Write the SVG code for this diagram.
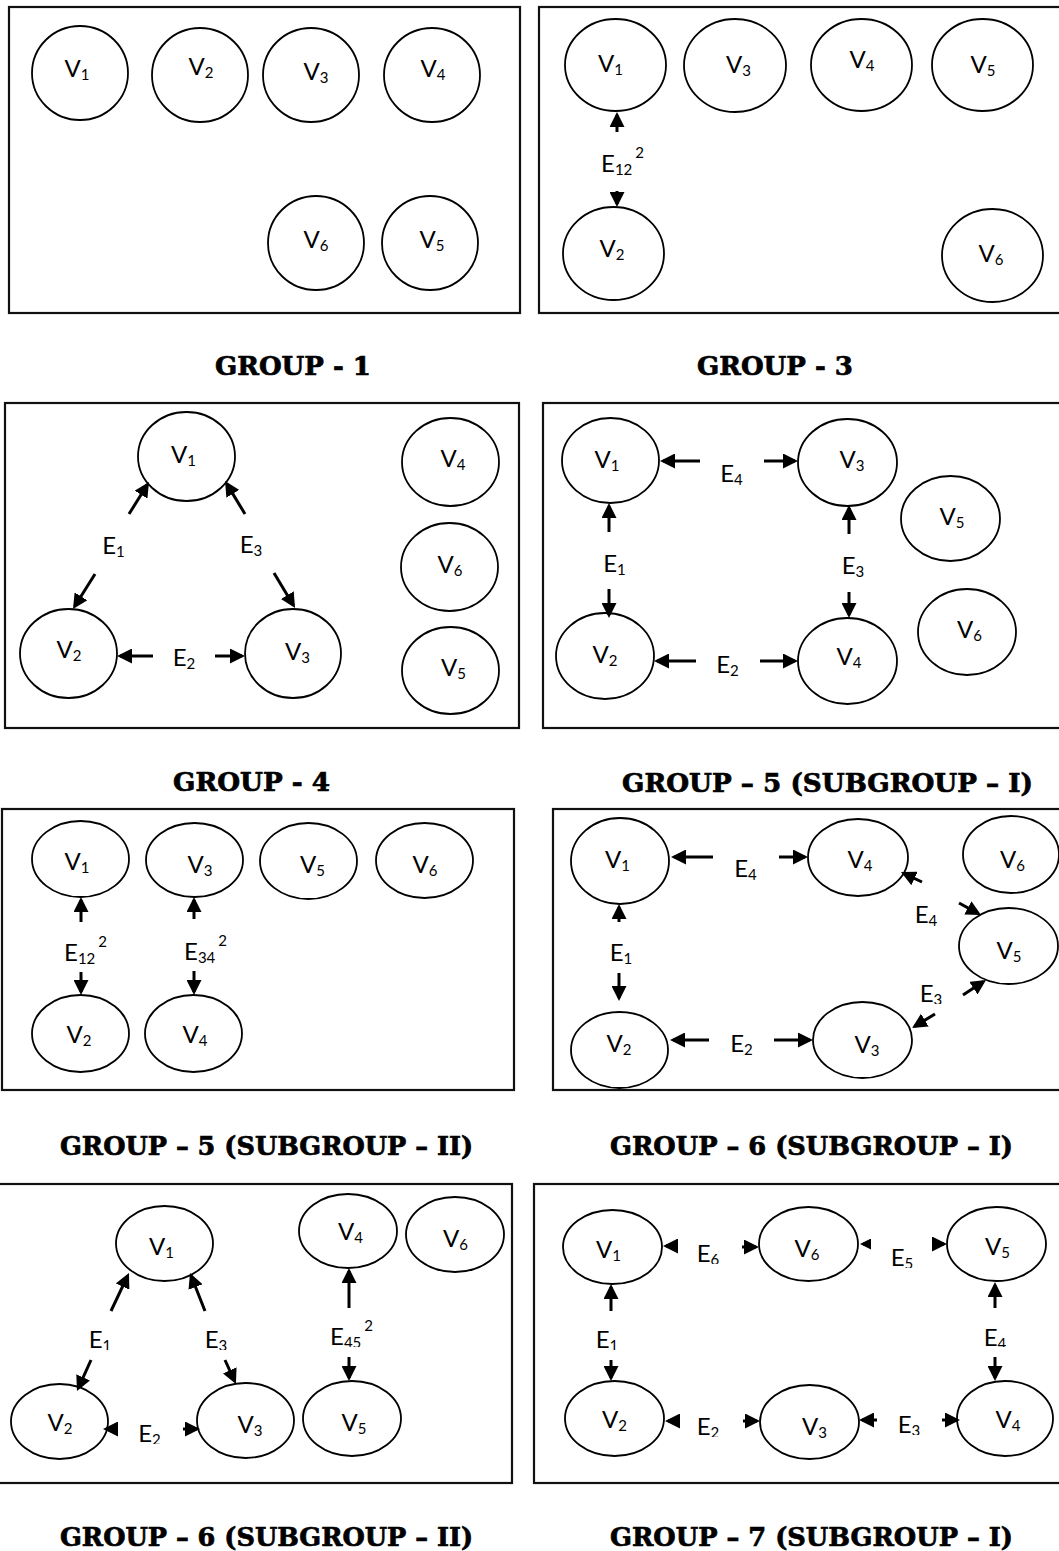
<svg xmlns="http://www.w3.org/2000/svg" width="1059" height="1551" viewBox="0 0 1059 1551">
<style>
.bg{fill:#fff}
.frame{fill:none;stroke:#111;stroke-width:2.2}
.node ellipse{fill:none;stroke:#000;stroke-width:1.8}
.lbl{font-family:Lato,"Noto Sans",sans-serif;font-size:24px;fill:#000}
.sub{font-size:15px}
.title{font-family:"DejaVu Serif","Liberation Serif",serif;font-weight:bold;font-size:26px;fill:#000;stroke:#000;stroke-width:0.7}
.edge path{stroke:#000;stroke-width:3;fill:none;marker-end:url(#ah)}
.edge path.sm{marker-end:url(#ahs)}
</style>
<defs>
<marker id="ah" markerUnits="userSpaceOnUse" markerWidth="15" markerHeight="15" refX="12" refY="7.5" orient="auto"><path d="M0,0 L15,7.5 L0,15 Z" fill="#000"/></marker>
<marker id="ahs" markerUnits="userSpaceOnUse" markerWidth="11" markerHeight="11" refX="8" refY="5.5" orient="auto"><path d="M0,0 L11,5.5 L0,11 Z" fill="#000"/></marker>
<clipPath id="k1004"><rect x="0" y="0" width="1059" height="1004"/></clipPath>
<clipPath id="k1350"><rect x="0" y="0" width="1059" height="1350"/></clipPath>
<clipPath id="k1347"><rect x="0" y="0" width="1059" height="1347"/></clipPath>
<clipPath id="k1444"><rect x="0" y="0" width="1059" height="1444"/></clipPath>
<clipPath id="k1264"><rect x="0" y="0" width="1059" height="1264"/></clipPath>
<clipPath id="k1268"><rect x="0" y="0" width="1059" height="1268"/></clipPath>
<clipPath id="k1437"><rect x="0" y="0" width="1059" height="1437"/></clipPath>
<clipPath id="k1435"><rect x="0" y="0" width="1059" height="1435"/></clipPath>
</defs>
<rect class="bg" x="0" y="0" width="1059" height="1551"/>

<!-- ===== GROUP 1 ===== -->
<g id="group1">
<rect class="frame" x="9" y="7" width="511" height="306"/>
<g id="g1-v1" class="node"><ellipse cx="80" cy="73" rx="48" ry="47"/><text class="lbl" x="77" y="77" text-anchor="middle">V<tspan class="sub" dy="2.5">1</tspan></text></g>
<g id="g1-v2" class="node"><ellipse cx="200" cy="75" rx="48" ry="47"/><text class="lbl" x="201" y="75" text-anchor="middle">V<tspan class="sub" dy="2.5">2</tspan></text></g>
<g id="g1-v3" class="node"><ellipse cx="311" cy="75" rx="48" ry="47"/><text class="lbl" x="316" y="80" text-anchor="middle">V<tspan class="sub" dy="2.5">3</tspan></text></g>
<g id="g1-v4" class="node"><ellipse cx="432" cy="75" rx="48" ry="47"/><text class="lbl" x="433" y="77" text-anchor="middle">V<tspan class="sub" dy="2.5">4</tspan></text></g>
<g id="g1-v6" class="node"><ellipse cx="316" cy="243" rx="48" ry="47"/><text class="lbl" x="316" y="248" text-anchor="middle">V<tspan class="sub" dy="2.5">6</tspan></text></g>
<g id="g1-v5" class="node"><ellipse cx="430" cy="243" rx="48" ry="47"/><text class="lbl" x="432" y="248" text-anchor="middle">V<tspan class="sub" dy="2.5">5</tspan></text></g>
<text class="title" x="215" y="375" textLength="156" lengthAdjust="spacingAndGlyphs">GROUP - 1</text>
</g>

<!-- ===== GROUP 3 ===== -->
<g id="group3">
<rect class="frame" x="539" y="7" width="530" height="306"/>
<g id="g3-v1" class="node"><ellipse cx="615.5" cy="65" rx="50.5" ry="46"/><text class="lbl" x="610.5" y="72" text-anchor="middle">V<tspan class="sub" dy="2.5">1</tspan></text></g>
<g id="g3-v3" class="node"><ellipse cx="735" cy="65.5" rx="51" ry="46.5"/><text class="lbl" x="738.5" y="73" text-anchor="middle">V<tspan class="sub" dy="2.5">3</tspan></text></g>
<g id="g3-v4" class="node"><ellipse cx="861.5" cy="65" rx="50.5" ry="46"/><text class="lbl" x="862" y="68" text-anchor="middle">V<tspan class="sub" dy="2.5">4</tspan></text></g>
<g id="g3-v5" class="node"><ellipse cx="982.5" cy="65" rx="50.5" ry="46"/><text class="lbl" x="983" y="73" text-anchor="middle">V<tspan class="sub" dy="2.5">5</tspan></text></g>
<g id="g3-v2" class="node"><ellipse cx="613.5" cy="253.5" rx="50.5" ry="46.5"/><text class="lbl" x="612" y="257" text-anchor="middle">V<tspan class="sub" dy="2.5">2</tspan></text></g>
<g id="g3-v6" class="node"><ellipse cx="992.5" cy="255.5" rx="50.5" ry="46.5"/><text class="lbl" x="991" y="262" text-anchor="middle">V<tspan class="sub" dy="2.5">6</tspan></text></g>
<g id="g3-edges" class="edge">
<path d="M617,132 L617,115"/>
<path d="M617,191 L617,204"/>
</g>
<text class="lbl" x="601" y="172">E<tspan class="sub" dy="2.5">12</tspan><tspan class="sub" dx="3" dy="-16.5">2</tspan></text>
<text class="title" x="697" y="375" textLength="156" lengthAdjust="spacingAndGlyphs">GROUP - 3</text>
</g>

<!-- ===== GROUP 4 ===== -->
<g id="group4">
<rect class="frame" x="5" y="403" width="514" height="325"/>
<g id="g4-v1" class="node"><ellipse cx="186.5" cy="456.5" rx="48.5" ry="44.5"/><text class="lbl" x="183.5" y="463" text-anchor="middle">V<tspan class="sub" dy="2.5">1</tspan></text></g>
<g id="g4-v2" class="node"><ellipse cx="68.5" cy="653.5" rx="48.5" ry="44.5"/><text class="lbl" x="69" y="658" text-anchor="middle">V<tspan class="sub" dy="2.5">2</tspan></text></g>
<g id="g4-v3" class="node"><ellipse cx="293" cy="653.5" rx="48" ry="44.5"/><text class="lbl" x="297.5" y="660" text-anchor="middle">V<tspan class="sub" dy="2.5">3</tspan></text></g>
<g id="g4-v4" class="node"><ellipse cx="450.5" cy="462" rx="48.5" ry="44"/><text class="lbl" x="453" y="467" text-anchor="middle">V<tspan class="sub" dy="2.5">4</tspan></text></g>
<g id="g4-v6" class="node"><ellipse cx="449.5" cy="567" rx="48.5" ry="44"/><text class="lbl" x="450" y="573" text-anchor="middle">V<tspan class="sub" dy="2.5">6</tspan></text></g>
<g id="g4-v5" class="node"><ellipse cx="450.5" cy="670.5" rx="48.5" ry="43.5"/><text class="lbl" x="453.5" y="676" text-anchor="middle">V<tspan class="sub" dy="2.5">5</tspan></text></g>
<g id="g4-edges" class="edge">
<path d="M129,514 L147.4,484.5"/>
<path d="M95,574 L74.6,606.5"/>
<path d="M245,514 L226.6,483.6"/>
<path d="M274,573 L293.5,605.4"/>
<path d="M153,656 L120,656"/>
<path d="M215,656 L242,656"/>
</g>
<text class="lbl" x="113.5" y="554" text-anchor="middle">E<tspan class="sub" dy="2.5">1</tspan></text>
<text class="lbl" x="251" y="553" text-anchor="middle">E<tspan class="sub" dy="2.5">3</tspan></text>
<text class="lbl" x="184" y="666" text-anchor="middle">E<tspan class="sub" dy="2.5">2</tspan></text>
<text class="title" x="173" y="791" textLength="157" lengthAdjust="spacingAndGlyphs">GROUP - 4</text>
</g>

<!-- ===== GROUP 5 (SUBGROUP I) ===== -->
<g id="group5-1">
<rect class="frame" x="543" y="403" width="530" height="325"/>
<g id="g51-v1" class="node"><ellipse cx="610.5" cy="460.5" rx="48.5" ry="42.5"/><text class="lbl" x="607" y="468" text-anchor="middle">V<tspan class="sub" dy="2.5">1</tspan></text></g>
<g id="g51-v3" class="node"><ellipse cx="847.5" cy="462.5" rx="49.5" ry="43.5"/><text class="lbl" x="852" y="468" text-anchor="middle">V<tspan class="sub" dy="2.5">3</tspan></text></g>
<g id="g51-v5" class="node"><ellipse cx="950.5" cy="518.5" rx="49.5" ry="42.5"/><text class="lbl" x="952" y="525" text-anchor="middle">V<tspan class="sub" dy="2.5">5</tspan></text></g>
<g id="g51-v6" class="node"><ellipse cx="967" cy="632" rx="49" ry="43"/><text class="lbl" x="969.5" y="638" text-anchor="middle">V<tspan class="sub" dy="2.5">6</tspan></text></g>
<g id="g51-v2" class="node"><ellipse cx="605" cy="656" rx="49" ry="43"/><text class="lbl" x="605" y="663" text-anchor="middle">V<tspan class="sub" dy="2.5">2</tspan></text></g>
<g id="g51-v4" class="node"><ellipse cx="847.5" cy="661" rx="49.5" ry="43"/><text class="lbl" x="849" y="665" text-anchor="middle">V<tspan class="sub" dy="2.5">4</tspan></text></g>
<g id="g51-edges" class="edge">
<path d="M700,461 L663,461"/>
<path d="M764,461 L795,461"/>
<path d="M609,532 L609,506"/>
<path d="M609,589 L609,615"/>
<path d="M849,534 L849,508"/>
<path d="M849,592 L849,615"/>
<path d="M696,661 L657,661"/>
<path d="M760,661 L795,661"/>
</g>
<text class="lbl" x="731.5" y="482" text-anchor="middle">E<tspan class="sub" dy="2.5">4</tspan></text>
<text class="lbl" x="614.5" y="572" text-anchor="middle">E<tspan class="sub" dy="2.5">1</tspan></text>
<text class="lbl" x="853" y="574" text-anchor="middle">E<tspan class="sub" dy="2.5">3</tspan></text>
<text class="lbl" x="727.5" y="673" text-anchor="middle">E<tspan class="sub" dy="2.5">2</tspan></text>
<text class="title" x="622" y="792" textLength="411" lengthAdjust="spacingAndGlyphs">GROUP – 5 (SUBGROUP – I)</text>
</g>

<!-- ===== GROUP 5 (SUBGROUP II) ===== -->
<g id="group5-2">
<rect class="frame" x="2" y="809" width="512" height="281"/>
<g id="g52-v1" class="node"><ellipse cx="80.5" cy="859" rx="48.5" ry="38"/><text class="lbl" x="77" y="870" text-anchor="middle">V<tspan class="sub" dy="2.5">1</tspan></text></g>
<g id="g52-v3" class="node"><ellipse cx="194.5" cy="860" rx="48.5" ry="37"/><text class="lbl" x="200" y="873" text-anchor="middle">V<tspan class="sub" dy="2.5">3</tspan></text></g>
<g id="g52-v5" class="node"><ellipse cx="308.5" cy="861" rx="48.5" ry="38"/><text class="lbl" x="312.5" y="873" text-anchor="middle">V<tspan class="sub" dy="2.5">5</tspan></text></g>
<g id="g52-v6" class="node"><ellipse cx="424.5" cy="860.5" rx="48.5" ry="37.5"/><text class="lbl" x="425" y="873" text-anchor="middle">V<tspan class="sub" dy="2.5">6</tspan></text></g>
<g id="g52-v2" class="node"><ellipse cx="80.5" cy="1033.5" rx="48.5" ry="38.5"/><text class="lbl" x="79" y="1043" text-anchor="middle">V<tspan class="sub" dy="2.5">2</tspan></text></g>
<g id="g52-v4" class="node"><ellipse cx="193.5" cy="1033.5" rx="48.5" ry="38.5"/><text class="lbl" x="195" y="1043" text-anchor="middle">V<tspan class="sub" dy="2.5">4</tspan></text></g>
<g id="g52-edges" class="edge">
<path d="M81,922 L81,900"/>
<path d="M81,972 L81,992"/>
<path d="M194,919 L194,900"/>
<path d="M194,971 L194,992"/>
</g>
<text class="lbl" x="64" y="961">E<tspan class="sub" dy="2.5">12</tspan><tspan class="sub" dx="3" dy="-16.5">2</tspan></text>
<text class="lbl" x="184" y="960">E<tspan class="sub" dy="2.5">34</tspan><tspan class="sub" dx="3" dy="-16.5">2</tspan></text>
<text class="title" x="60" y="1155" textLength="413" lengthAdjust="spacingAndGlyphs">GROUP – 5 (SUBGROUP – II)</text>
</g>

<!-- ===== GROUP 6 (SUBGROUP I) ===== -->
<g id="group6-1">
<rect class="frame" x="553" y="809" width="520" height="281"/>
<g id="g61-v1" class="node"><ellipse cx="620" cy="861" rx="49" ry="43"/><text class="lbl" x="617.5" y="868" text-anchor="middle">V<tspan class="sub" dy="2.5">1</tspan></text></g>
<g id="g61-v4" class="node"><ellipse cx="858" cy="857.5" rx="50" ry="38.5"/><text class="lbl" x="860" y="868" text-anchor="middle">V<tspan class="sub" dy="2.5">4</tspan></text></g>
<g id="g61-v6" class="node"><ellipse cx="1011" cy="854.5" rx="48" ry="38.5"/><text class="lbl" x="1012.5" y="868" text-anchor="middle">V<tspan class="sub" dy="2.5">6</tspan></text></g>
<g id="g61-v5" class="node"><ellipse cx="1008.5" cy="946" rx="49.5" ry="38"/><text class="lbl" x="1009" y="959" text-anchor="middle">V<tspan class="sub" dy="2.5">5</tspan></text></g>
<g id="g61-v2" class="node"><ellipse cx="619.5" cy="1050" rx="48.5" ry="38"/><text class="lbl" x="619" y="1052" text-anchor="middle">V<tspan class="sub" dy="2.5">2</tspan></text></g>
<g id="g61-v3" class="node"><ellipse cx="862.5" cy="1040" rx="49.5" ry="38"/><text class="lbl" x="867" y="1053" text-anchor="middle">V<tspan class="sub" dy="2.5">3</tspan></text></g>
<g id="g61-edges" class="edge">
<path d="M713,857 L674,857"/>
<path d="M779,857 L805,857"/>
<path d="M619,922 L619,907"/>
<path d="M619,973 L619,998"/>
<path d="M709,1040 L673,1040"/>
<path d="M774,1040 L810,1040"/>
<path d="M922,882 L903.7,873.3"/>
<path d="M959,903 L978.4,913.6"/>
<path d="M963,995 L983.5,981.6"/>
<path d="M935,1014 L914.6,1026.4"/>
</g>
<text class="lbl" x="745.5" y="877" text-anchor="middle">E<tspan class="sub" dy="2.5">4</tspan></text>
<text class="lbl" x="621" y="961" text-anchor="middle">E<tspan class="sub" dy="2.5">1</tspan></text>
<text class="lbl" x="741.5" y="1052" text-anchor="middle">E<tspan class="sub" dy="2.5">2</tspan></text>
<text class="lbl" x="926" y="923" text-anchor="middle">E<tspan class="sub" dy="2.5">4</tspan></text>
<text class="lbl" x="931" y="1002" text-anchor="middle" clip-path="url(#k1004)">E<tspan class="sub" dy="2.5">3</tspan></text>
<text class="title" x="610" y="1155" textLength="403" lengthAdjust="spacingAndGlyphs">GROUP – 6 (SUBGROUP – I)</text>
</g>

<!-- ===== GROUP 6 (SUBGROUP II) ===== -->
<g id="group6-2">
<rect class="frame" x="-3" y="1184" width="515" height="299"/>
<g id="g62-v1" class="node"><ellipse cx="164.5" cy="1243.5" rx="48.5" ry="37.5"/><text class="lbl" x="161.5" y="1255" text-anchor="middle">V<tspan class="sub" dy="2.5">1</tspan></text></g>
<g id="g62-v4" class="node"><ellipse cx="348" cy="1231" rx="49" ry="37"/><text class="lbl" x="350.5" y="1240" text-anchor="middle">V<tspan class="sub" dy="2.5">4</tspan></text></g>
<g id="g62-v6" class="node"><ellipse cx="455" cy="1234.5" rx="49" ry="37.5"/><text class="lbl" x="455.5" y="1247" text-anchor="middle">V<tspan class="sub" dy="2.5">6</tspan></text></g>
<g id="g62-v2" class="node"><ellipse cx="59.5" cy="1421.5" rx="48.5" ry="37.5"/><text class="lbl" x="60" y="1431" text-anchor="middle">V<tspan class="sub" dy="2.5">2</tspan></text></g>
<g id="g62-v3" class="node"><ellipse cx="245.5" cy="1420.5" rx="48.5" ry="37.5"/><text class="lbl" x="250" y="1433" text-anchor="middle">V<tspan class="sub" dy="2.5">3</tspan></text></g>
<g id="g62-v5" class="node"><ellipse cx="352" cy="1418.5" rx="49" ry="37.5"/><text class="lbl" x="354" y="1431" text-anchor="middle">V<tspan class="sub" dy="2.5">5</tspan></text></g>
<g id="g62-edges" class="edge">
<path d="M111,1311 L127.7,1275.7"/>
<path d="M91,1360 L78.2,1388.3"/>
<path d="M205,1311 L191.1,1275.8"/>
<path d="M225,1360 L234.7,1381.3"/>
<path d="M349,1308 L349,1271"/>
<path d="M349,1357 L349,1378"/>
<path d="M118,1429 L106,1429"/>
<path d="M183,1429 L197,1429"/>
</g>
<text class="lbl" x="100" y="1348" text-anchor="middle" clip-path="url(#k1350)">E<tspan class="sub" dy="2.5">1</tspan></text>
<text class="lbl" x="216" y="1348" text-anchor="middle" clip-path="url(#k1350)">E<tspan class="sub" dy="2.5">3</tspan></text>
<text class="lbl" x="330" y="1345" clip-path="url(#k1347)">E<tspan class="sub" dy="2.5">45</tspan><tspan class="sub" dx="3" dy="-16.5">2</tspan></text>
<text class="lbl" x="149.5" y="1442" text-anchor="middle" clip-path="url(#k1444)">E<tspan class="sub" dy="2.5">2</tspan></text>
<text class="title" x="60" y="1546" textLength="413" lengthAdjust="spacingAndGlyphs">GROUP – 6 (SUBGROUP – II)</text>
</g>

<!-- ===== GROUP 7 (SUBGROUP I) ===== -->
<g id="group7-1">
<rect class="frame" x="534" y="1184" width="530" height="299"/>
<g id="g71-v1" class="node"><ellipse cx="612.5" cy="1247" rx="49.5" ry="37"/><text class="lbl" x="608.5" y="1258" text-anchor="middle">V<tspan class="sub" dy="2.5">1</tspan></text></g>
<g id="g71-v6" class="node"><ellipse cx="808.5" cy="1244" rx="49.5" ry="37"/><text class="lbl" x="807" y="1257" text-anchor="middle">V<tspan class="sub" dy="2.5">6</tspan></text></g>
<g id="g71-v5" class="node"><ellipse cx="996.5" cy="1244" rx="49.5" ry="37"/><text class="lbl" x="997.5" y="1255" text-anchor="middle">V<tspan class="sub" dy="2.5">5</tspan></text></g>
<g id="g71-v2" class="node"><ellipse cx="614.5" cy="1418.5" rx="49.5" ry="37.5"/><text class="lbl" x="614.5" y="1428" text-anchor="middle">V<tspan class="sub" dy="2.5">2</tspan></text></g>
<g id="g71-v3" class="node"><ellipse cx="809.5" cy="1422" rx="49.5" ry="37"/><text class="lbl" x="814.5" y="1435" text-anchor="middle">V<tspan class="sub" dy="2.5">3</tspan></text></g>
<g id="g71-v4" class="node"><ellipse cx="1005" cy="1418.5" rx="48" ry="37.5"/><text class="lbl" x="1008" y="1428" text-anchor="middle">V<tspan class="sub" dy="2.5">4</tspan></text></g>
<g id="g71-edges" class="edge">
<path d="M678,1246 L666,1246"/>
<path d="M742,1247 L756,1247"/>
<path class="sm" d="M871,1244 L863,1244"/>
<path d="M933,1244 L944,1244"/>
<path d="M611,1311 L611,1287"/>
<path d="M611,1360 L611,1378"/>
<path d="M995,1308 L995,1285"/>
<path d="M995,1357 L995,1378"/>
<path d="M677,1421 L668,1421"/>
<path d="M743,1421 L757,1421"/>
<path d="M877,1420 L862,1420"/>
<path d="M942,1420 L957,1420"/>
</g>
<text class="lbl" x="708" y="1262" text-anchor="middle" clip-path="url(#k1264)">E<tspan class="sub" dy="2.5">6</tspan></text>
<text class="lbl" x="902" y="1266" text-anchor="middle" clip-path="url(#k1268)">E<tspan class="sub" dy="2.5">5</tspan></text>
<text class="lbl" x="607" y="1348" text-anchor="middle" clip-path="url(#k1350)">E<tspan class="sub" dy="2.5">1</tspan></text>
<text class="lbl" x="995" y="1346" text-anchor="middle" clip-path="url(#k1347)">E<tspan class="sub" dy="2.5">4</tspan></text>
<text class="lbl" x="708" y="1435" text-anchor="middle" clip-path="url(#k1437)">E<tspan class="sub" dy="2.5">2</tspan></text>
<text class="lbl" x="909" y="1433" text-anchor="middle" clip-path="url(#k1435)">E<tspan class="sub" dy="2.5">3</tspan></text>
<text class="title" x="610" y="1546" textLength="403" lengthAdjust="spacingAndGlyphs">GROUP – 7 (SUBGROUP – I)</text>
</g>
</svg>
